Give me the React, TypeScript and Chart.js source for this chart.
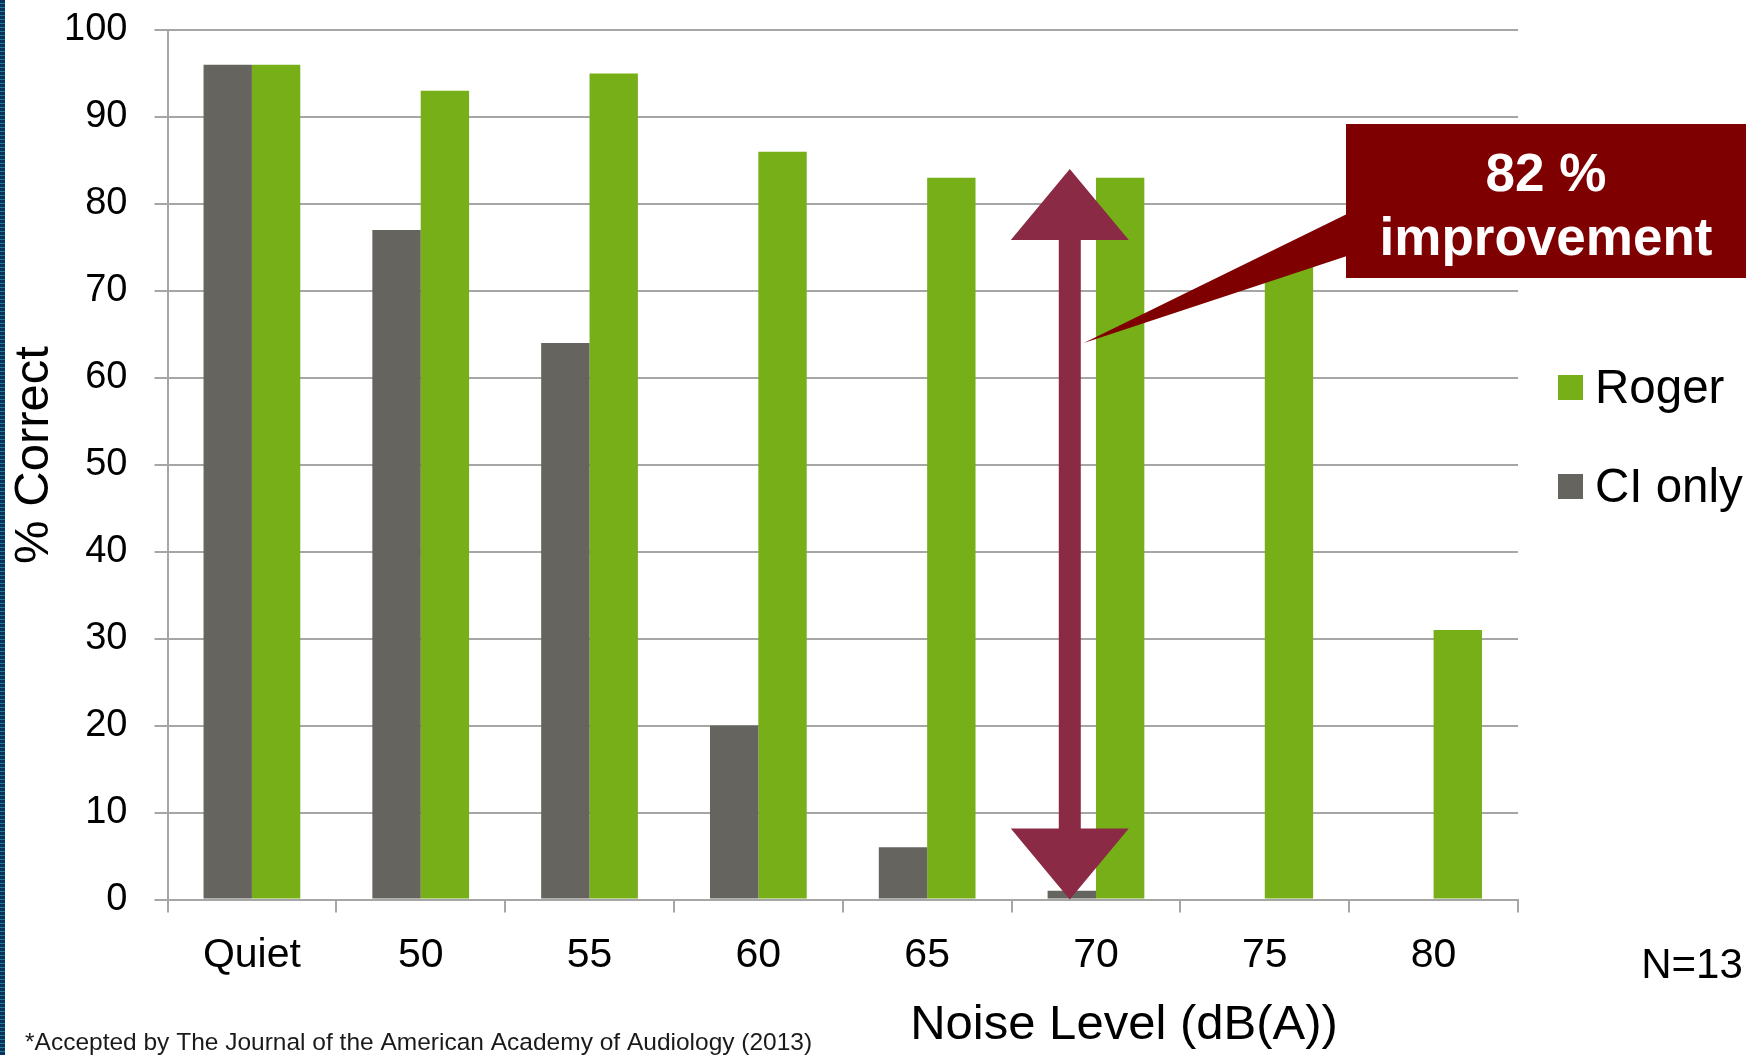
import React, { useEffect, useRef } from "react";
import { Chart, registerables } from "chart.js";

Chart.register(...registerables);

const categories = ["Quiet", "50", "55", "60", "65", "70", "75", "80"];
const ciOnly = [96, 77, 64, 20, 6, 1, 0, 0];
const roger = [96, 93, 95, 86, 83, 83, 74, 31];
const seriesNames = ["CI only", "Roger"];
const seriesColors = ["#66645E", "#76AF17"];
const yMin = 0;
const yMax = 100;
const yStep = 10;
const yTitle = "% Correct";
const xTitle = "Noise Level (dB(A))";
const sampleNote = "N=13";
const footnote = "*Accepted by The Journal of the American Academy of Audiology (2013)";
const calloutLines = ["82 %", "improvement"];
const arrowCategoryIndex = 5;
const arrowTopValue = 84;
const arrowBottomValue = 0;
const pointerTipValue = 64;

const FONT = "'Liberation Sans', Arial, sans-serif";
const GRID = "#A6A6A6";

const overlayPlugin = {
  id: "overlay",
  afterDatasetsDraw(chart: any) {
    const ctx: CanvasRenderingContext2D = chart.ctx;
    const y = chart.scales.y;
    const bar = chart.getDatasetMeta(0).data[arrowCategoryIndex];
    const ax = bar.x - 2;
    const yTop = y.getPixelForValue(arrowTopValue);
    const yBot = y.getPixelForValue(arrowBottomValue);
    const hw = 59, hh = 71, sw = 11;
    ctx.save();
    // double arrow
    ctx.fillStyle = "#8B2A45";
    ctx.beginPath();
    ctx.moveTo(ax, yTop);
    ctx.lineTo(ax + hw, yTop + hh);
    ctx.lineTo(ax + sw, yTop + hh);
    ctx.lineTo(ax + sw, yBot - hh);
    ctx.lineTo(ax + hw, yBot - hh);
    ctx.lineTo(ax, yBot);
    ctx.lineTo(ax - hw, yBot - hh);
    ctx.lineTo(ax - sw, yBot - hh);
    ctx.lineTo(ax - sw, yTop + hh);
    ctx.lineTo(ax - hw, yTop + hh);
    ctx.closePath();
    ctx.fill();

    // callout box with pointer
    const bx = 1346, by = 124, bw = 400, bh = 154;
    ctx.fillStyle = "#7F0000";
    ctx.beginPath();
    ctx.moveTo(bx + 1, 214);
    ctx.lineTo(bx + 1, 256);
    ctx.lineTo(ax + sw + 3, y.getPixelForValue(pointerTipValue));
    ctx.closePath();
    ctx.fill();
    ctx.fillRect(bx, by, bw, bh);
    ctx.fillStyle = "#FFFFFF";
    ctx.font = `bold 53px ${FONT}`;
    ctx.textAlign = "center";
    ctx.textBaseline = "middle";
    ctx.fillText(calloutLines[0], bx + bw / 2, 176);
    ctx.fillText(calloutLines[1], bx + bw / 2, 240);
    ctx.restore();
  },
  afterDraw(chart: any) {
    const ctx: CanvasRenderingContext2D = chart.ctx;
    ctx.save();
    ctx.fillStyle = "#000000";
    // y title
    ctx.font = `49px ${FONT}`;
    ctx.textAlign = "center";
    ctx.textBaseline = "middle";
    ctx.translate(34, 455);
    ctx.rotate(-Math.PI / 2);
    ctx.fillText(yTitle, 0, 0);
    ctx.setTransform(1, 0, 0, 1, 0, 0);
    // x title
    ctx.font = `49px ${FONT}`;
    ctx.fillText(xTitle, 1124, 1025);
    // N
    ctx.font = `42px ${FONT}`;
    ctx.fillText(sampleNote, 1692, 966);
    // footnote
    ctx.font = `24.5px ${FONT}`;
    ctx.textAlign = "left";
    ctx.fillStyle = "#1A1A1A";
    ctx.fillText(footnote, 25, 1043);
    // legend (Roger first, then CI only)
    const order = [1, 0];
    ctx.font = `47.5px ${FONT}`;
    order.forEach((di, i) => {
      const cy = 388 + i * 99;
      ctx.fillStyle = seriesColors[di];
      ctx.fillRect(1558, cy - 13, 25, 25);
      ctx.fillStyle = "#000000";
      ctx.textAlign = "left";
      ctx.fillText(seriesNames[di], 1595, cy + 2);
    });
    ctx.restore();
  },
};

export default function App() {
  const ref = useRef<HTMLCanvasElement>(null);
  useEffect(() => {
    const chart = new Chart(ref.current as HTMLCanvasElement, {
      type: "bar",
      data: {
        labels: categories,
        datasets: [
          {
            label: seriesNames[0],
            data: ciOnly,
            backgroundColor: seriesColors[0],
            borderWidth: 0,
            categoryPercentage: 0.573,
            barPercentage: 1,
          },
          {
            label: seriesNames[1],
            data: roger,
            backgroundColor: seriesColors[1],
            borderWidth: 0,
            categoryPercentage: 0.573,
            barPercentage: 1,
          },
        ],
      },
      options: {
        responsive: false,
        animation: false,
        devicePixelRatio: 1,
        layout: { padding: { top: 30, right: 245, bottom: 0, left: 0 } },
        plugins: {
          legend: { display: false },
          tooltip: { enabled: false },
          title: { display: false },
        },
        scales: {
          x: {
            offset: true,
            grid: {
              offset: true,
              drawOnChartArea: false,
              drawTicks: true,
              tickLength: 13,
              color: GRID,
              lineWidth: 2,
            },
            border: { display: true, color: GRID, width: 2 },
            ticks: {
              color: "#000000",
              font: { family: FONT, size: 41 },
              padding: 19,
              maxRotation: 0,
            },
            afterFit: (s: any) => {
              s.height = 155.5;
            },
          },
          y: {
            min: yMin,
            max: yMax,
            ticks: {
              stepSize: yStep,
              color: "#000000",
              font: { family: FONT, size: 38 },
              padding: 27,
            },
            grid: { color: GRID, lineWidth: 2, tickLength: 13 },
            border: { display: true, color: GRID, width: 2 },
            afterFit: (s: any) => {
              s.width = 167.5;
              s.paddingTop = 0;
              s.paddingBottom = 0;
            },
          },
        },
      },
      plugins: [overlayPlugin],
    });
    return () => chart.destroy();
  }, []);

  return (
    <div
      style={{
        position: "fixed",
        left: 0,
        top: 0,
        width: 1763,
        height: 1055,
        background: "#FFFFFF",
        overflow: "hidden",
      }}
    >
      <canvas
        ref={ref}
        width={1763}
        height={1055}
        style={{ display: "block", width: 1763, height: 1055 }}
      />
      <div
        style={{
          position: "absolute",
          left: 0,
          top: 0,
          width: 5,
          height: 1055,
          background:
            "repeating-linear-gradient(to bottom, #06325F 0px, #06325F 3px, #1F7D8C 3px, #1F7D8C 4px)",
        }}
      />
    </div>
  );
}
